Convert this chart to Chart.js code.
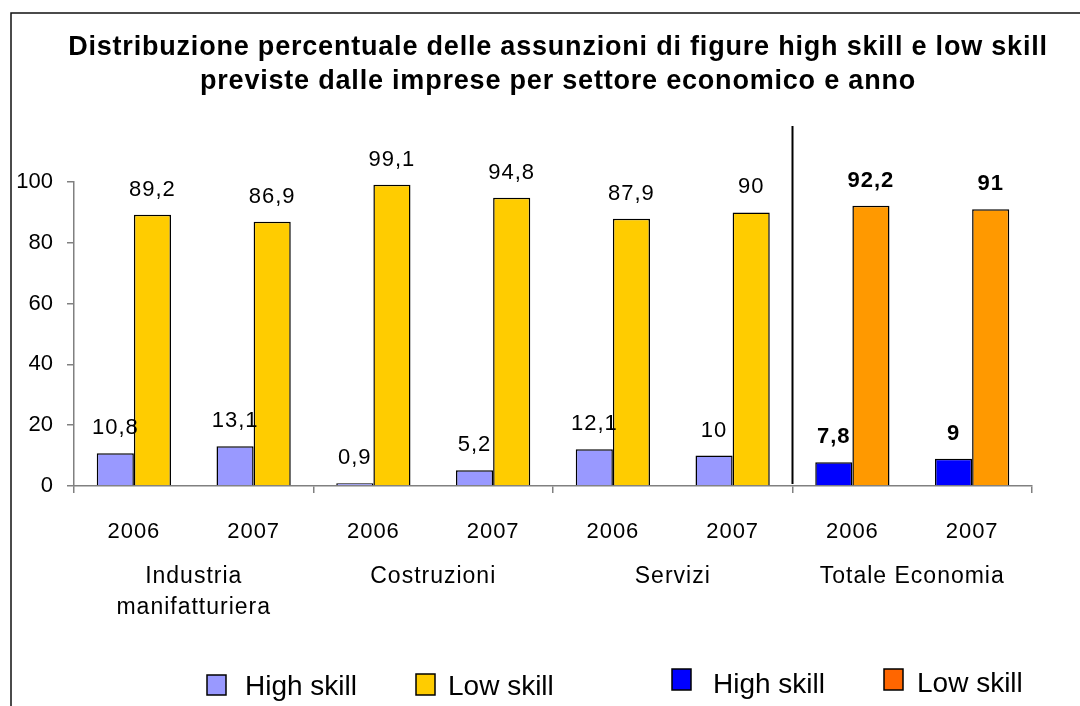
<!DOCTYPE html>
<html><head><meta charset="utf-8">
<script src="https://cdn.jsdelivr.net/npm/chart.js@4"></script>
<style>html,body{margin:0;padding:0;background:#fff}#wrap{width:1080px;height:706px;position:relative}</style>
</head><body><div id="wrap"><canvas id="c" width="1080" height="706"></canvas></div>
<script>
const years = ['2006','2007','2006','2007','2006','2007','2006','2007'];
const sectors = [['Industria','manifatturiera'],['Costruzioni'],['Servizi'],['Totale Economia']];
const highSkill = [10.8, 13.1, 0.9, 5.2, 12.1, 10, 7.8, 9];
const lowSkill = [89.2, 86.9, 99.1, 94.8, 87.9, 90, 92.2, 91];
const yTicks = [0, 20, 40, 60, 80, 100];
const titleLines = ['Distribuzione percentuale delle assunzioni di figure high skill e low skill',
                    'previste dalle imprese per settore economico e anno'];
const legendLabels = ['High skill', 'Low skill', 'High skill', 'Low skill'];

const FONT = '"Liberation Sans", Arial, sans-serif';
const isTotal = i => i >= 6;
const highColors = years.map((_, i) => isTotal(i) ? '#0000FF' : '#9999FF');
const lowColors = years.map((_, i) => isTotal(i) ? '#FF9900' : '#FFCC00');
const legendColors = ['#9999FF', '#FFCC00', '#0000FF', '#FF6600'];
const fmt = v => String(v).replace('.', ',');
const spacing = (ctx, s) => { try { ctx.letterSpacing = s; } catch (e) {} };

const deco = {
  id: 'deco',
  beforeDraw(chart) {
    const ctx = chart.ctx;
    ctx.save();
    ctx.fillStyle = '#fff';
    ctx.fillRect(0, 0, chart.width, chart.height);
    ctx.strokeStyle = '#111';
    ctx.lineWidth = 1.5;
    ctx.beginPath();
    ctx.moveTo(11, 706); ctx.lineTo(11, 13); ctx.lineTo(1080, 13);
    ctx.stroke();
    ctx.restore();
  },
  afterDraw(chart) {
    const ctx = chart.ctx;
    const xs = chart.scales.x, ys = chart.scales.y;
    ctx.save();
    ctx.fillStyle = '#000';
    // title
    ctx.font = 'bold 27px ' + FONT;
    spacing(ctx, '0.8px');
    ctx.textAlign = 'center';
    ctx.textBaseline = 'alphabetic';
    ctx.fillText(titleLines[0], 558, 55);
    ctx.fillText(titleLines[1], 558, 89);
    // separator line
    const sepX = (xs.getPixelForValue(5) + xs.getPixelForValue(6)) / 2;
    ctx.strokeStyle = '#000';
    ctx.lineWidth = 2;
    ctx.beginPath();
    ctx.moveTo(sepX, 126); ctx.lineTo(sepX, ys.getPixelForValue(0) - 2);
    ctx.stroke();
    // data labels
    spacing(ctx, '1px');
    ctx.textBaseline = 'middle';
    chart.data.datasets.forEach((ds, di) => {
      const meta = chart.getDatasetMeta(di);
      meta.data.forEach((bar, i) => {
        ctx.font = (isTotal(i) ? 'bold ' : '') + '22px ' + FONT;
        ctx.fillText(fmt(ds.data[i]), bar.x, bar.y - 25);
      });
    });
    // year labels
    ctx.font = '22px ' + FONT;
    years.forEach((y, i) => ctx.fillText(y, xs.getPixelForValue(i), 532));
    // sector labels
    ctx.font = '23px ' + FONT;
    spacing(ctx, '1px');
    sectors.forEach((lines, g) => {
      const cx = (xs.getPixelForValue(2 * g) + xs.getPixelForValue(2 * g + 1)) / 2;
      lines.forEach((t, k) => ctx.fillText(t, cx, 577 + k * 31));
    });
    spacing(ctx, '0px');
    // legend
    const sw = [[207, 675, 19, 20], [416, 674, 19, 21], [672, 669, 19, 21], [884, 669, 19, 21]];
    const tx = [[245, 695], [448, 695], [713, 693], [917, 692]];
    ctx.font = '28px ' + FONT;
    ctx.textAlign = 'left';
    ctx.textBaseline = 'alphabetic';
    legendLabels.forEach((t, k) => {
      const [x, y, w, h] = sw[k];
      ctx.fillStyle = legendColors[k];
      ctx.fillRect(x, y, w, h);
      ctx.strokeStyle = '#000';
      ctx.lineWidth = 1.5;
      ctx.strokeRect(x, y, w, h);
      ctx.fillStyle = '#000';
      ctx.fillText(t, tx[k][0], tx[k][1]);
    });
    ctx.restore();
  }
};

new Chart(document.getElementById('c'), {
  type: 'bar',
  data: {
    labels: years,
    datasets: [
      { label: 'High skill', data: highSkill, backgroundColor: highColors, borderColor: '#000', borderWidth: 1.5,
        categoryPercentage: 0.62, barPercentage: 1 },
      { label: 'Low skill', data: lowSkill, backgroundColor: lowColors, borderColor: '#000', borderWidth: 1.5,
        categoryPercentage: 0.62, barPercentage: 1 }
    ]
  },
  options: {
    responsive: false,
    animation: false,
    devicePixelRatio: 1,
    layout: { padding: { top: 182, right: 48, bottom: 0, left: 0 } },
    plugins: { legend: { display: false }, tooltip: { enabled: false }, title: { display: false } },
    scales: {
      x: {
        grid: {
          offset: true, drawOnChartArea: false, drawTicks: true, tickLength: 7, lineWidth: 1.5,
          color: c => (c.index === undefined || c.index % 2 === 0) ? '#808080' : 'rgba(0,0,0,0)'
        },
        border: { display: true, color: '#808080', width: 1.5 },
        ticks: { display: false },
        afterFit(s) { s.height = 220; }
      },
      y: {
        min: 0, max: 100,
        afterBuildTicks(s) { s.ticks = yTicks.map(v => ({ value: v })); },
        ticks: { color: '#000', padding: 14, font: { family: FONT, size: 22 } },
        grid: { drawOnChartArea: false, drawTicks: true, tickLength: 7, color: '#808080', lineWidth: 1.5 },
        border: { display: true, color: '#808080', width: 1.5 },
        afterFit(s) { s.width = 74; }
      }
    }
  },
  plugins: [deco]
});
</script>
</body></html>
